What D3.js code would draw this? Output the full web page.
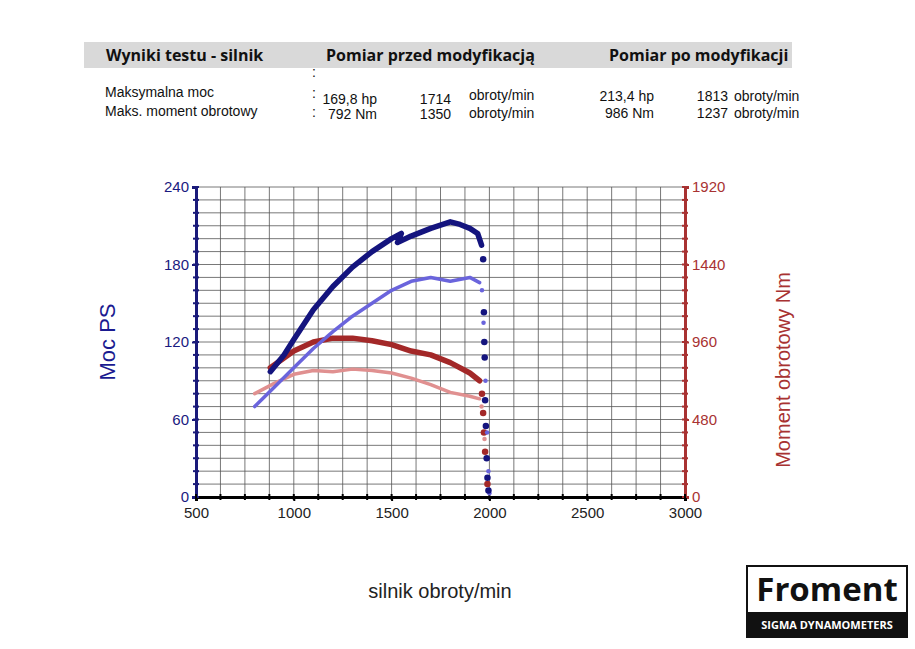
<!DOCTYPE html>
<html><head><meta charset="utf-8">
<script src="https://cdn.jsdelivr.net/npm/d3@7"></script>
<style>body{margin:0;background:#fff}svg{font-family:"Liberation Sans",Arial,sans-serif}</style>
</head><body><svg id="c" width="915" height="649"></svg>
<script>
// rpm / PS
const powerAfter = [[880,97],[950,110],[1000,122],[1100,145],[1200,163],[1300,178],[1400,190],[1500,200],[1550,204],[1530,197],[1600,202],[1700,208],[1800,213],[1850,211],[1900,208],[1940,204],[1960,195]];
const powerAfterTail = [[1968,184],[1972,143],[1974,120],[1976,108],[1978,75],[1982,55],[1986,30],[1990,15],[1995,5]];
const powerBefore = [[800,70],[900,85],[1000,100],[1100,115],[1200,128],[1300,140],[1400,150],[1500,160],[1600,167],[1700,170],[1800,167],[1900,170],[1950,166]];
const powerBeforeTail = [[1962,160],[1970,135],[1980,90],[1988,50],[1995,20],[2000,3]];
// rpm / Nm
const torqueAfter = [[880,800],[1000,904],[1100,960],[1200,984],[1300,984],[1400,968],[1500,944],[1600,904],[1700,880],[1800,832],[1900,768],[1950,720]];
const torqueAfterTail = [[1962,640],[1968,520],[1972,400],[1978,280],[1990,80]];
const torqueBefore = [[800,640],[900,704],[1000,760],[1100,784],[1200,776],[1300,792],[1400,784],[1500,768],[1600,736],[1700,696],[1800,648],[1900,624],[1950,608]];
const torqueBeforeTail = [[1960,560],[1975,360],[1990,80]];

const xTicks = [500,1000,1500,2000,2500,3000];
const psTicks = [0,60,120,180,240];
const nmTicks = [0,480,960,1440,1920];

const svg = d3.select("#c");
const L=196,R=685,T=187,B=497;
const x = d3.scaleLinear().domain([500,3000]).range([L,R]);
const yPS = d3.scaleLinear().domain([0,240]).range([B,T]);
const yNm = d3.scaleLinear().domain([0,1920]).range([B,T]);

// header
svg.append("rect").attr("x",84).attr("y",42).attr("width",708).attr("height",26).attr("fill","#d9d9d9");
const hd = svg.append("g").attr("font-family","'Open Sans',sans-serif").attr("font-weight","bold").attr("font-size",16).attr("fill","#111");
hd.append("text").attr("x",106).attr("y",61).text("Wyniki testu - silnik");
hd.append("text").attr("x",326).attr("y",61).text("Pomiar przed modyfikacją");
hd.append("text").attr("x",609).attr("y",61).text("Pomiar po modyfikacji");
const info = svg.append("g").attr("font-size",14).attr("fill","#111");
info.append("text").attr("x",105).attr("y",97).text("Maksymalna moc");
info.append("text").attr("x",105).attr("y",116).text("Maks. moment obrotowy");
[77,98,117].forEach(d=>info.append("text").attr("x",312).attr("y",d).text(":"));
// [value y, obroty y, before value, before rpm, after y, after value, after rpm]
const rows=[[104,100,"169,8 hp","1714",101,"213,4 hp","1813"],[119,118,"792 Nm","1350",118,"986 Nm","1237"]];
rows.forEach(r=>{
  info.append("text").attr("x",377).attr("y",r[0]).attr("text-anchor","end").text(r[2]);
  info.append("text").attr("x",451).attr("y",r[0]).attr("text-anchor","end").text(r[3]);
  info.append("text").attr("x",469).attr("y",r[1]).text("obroty/min");
  info.append("text").attr("x",654).attr("y",r[4]).attr("text-anchor","end").text(r[5]);
  info.append("text").attr("x",728).attr("y",r[4]).attr("text-anchor","end").text(r[6]);
  info.append("text").attr("x",734).attr("y",r[4]).text("obroty/min");
});

// grid
const g = svg.append("g");
g.selectAll(".vg").data(d3.range(500,3001,125)).join("line")
  .attr("x1",d=>x(d)).attr("x2",d=>x(d)).attr("y1",T).attr("y2",B).attr("stroke","#555").attr("stroke-width",0.8);
g.selectAll(".hg").data(d3.range(0,241,10)).join("line")
  .attr("y1",d=>yPS(d)).attr("y2",d=>yPS(d)).attr("x1",L).attr("x2",R).attr("stroke","#555").attr("stroke-width",0.8);

// axes
const axL = svg.append("g").attr("transform",`translate(${L},0)`)
  .call(d3.axisLeft(yPS).tickValues(psTicks).tickSize(4));
axL.select(".domain").attr("stroke","#1a1a7a").attr("stroke-width",3);
axL.selectAll("text").attr("fill","#1a1a80").attr("font-size",15);
axL.selectAll(".tick line").attr("stroke","#1a1a7a").attr("stroke-width",2);
const axR = svg.append("g").attr("transform",`translate(${R},0)`)
  .call(d3.axisRight(yNm).tickValues(nmTicks).tickFormat(d3.format("d")).tickSize(4));
axR.select(".domain").attr("stroke","#a83232").attr("stroke-width",3);
axR.selectAll("text").attr("fill","#a83232").attr("font-size",15);
axR.selectAll(".tick line").attr("stroke","#a83232").attr("stroke-width",2);
const axB = svg.append("g").attr("transform",`translate(0,${B})`)
  .call(d3.axisBottom(x).tickValues(xTicks).tickFormat(d3.format("d")).tickSize(4).tickPadding(6));
axB.select(".domain").attr("stroke","#000").attr("stroke-width",3);
axB.selectAll("text").attr("fill","#222").attr("font-size",15);
axB.selectAll(".tick line").attr("stroke","#000").attr("stroke-width",2);

// minor ticks on axes
svg.selectAll(".ml").data(d3.range(0,241,10)).join("line").attr("x1",L-3).attr("x2",L+3).attr("y1",d=>yPS(d)).attr("y2",d=>yPS(d)).attr("stroke","#1a1a7a").attr("stroke-width",2);
svg.selectAll(".mr").data(d3.range(0,241,10)).join("line").attr("x1",R-3).attr("x2",R+3).attr("y1",d=>yPS(d)).attr("y2",d=>yPS(d)).attr("stroke","#a83232").attr("stroke-width",2);
svg.selectAll(".mb").data(d3.range(500,3001,125)).join("line").attr("y1",B-3).attr("y2",B+3).attr("x1",d=>x(d)).attr("x2",d=>x(d)).attr("stroke","#000").attr("stroke-width",2);

// curves
function curve(data,tail,ys,color,w){
  svg.append("path").datum(data).attr("fill","none").attr("stroke",color).attr("stroke-width",w)
    .attr("stroke-linejoin","round").attr("stroke-linecap","round")
    .attr("d",d3.line().x(d=>x(d[0])).y(d=>ys(d[1])));
  svg.append("g").selectAll("circle").data(tail).join("circle")
    .attr("cx",d=>x(d[0])).attr("cy",d=>ys(d[1])).attr("r",w/2+0.5).attr("fill",color);
}
curve(torqueBefore,torqueBeforeTail,yNm,"#e09090",3.5);
curve(torqueAfter,torqueAfterTail,yNm,"#a32828",5.5);
curve(powerBefore,powerBeforeTail,yPS,"#6a64dc",3.5);
curve(powerAfter,powerAfterTail,yPS,"#14147e",5.5);

// labels
svg.append("text").attr("transform","translate(115,342) rotate(-90)").attr("text-anchor","middle")
  .attr("font-size",22).attr("fill","#1a1a90").text("Moc PS");
svg.append("text").attr("transform","translate(790,370) rotate(-90)").attr("text-anchor","middle")
  .attr("font-size",20).attr("fill","#a83232").text("Moment obrotowy Nm");
svg.append("text").attr("x",440).attr("y",598).attr("text-anchor","middle").attr("font-size",20).attr("fill","#222").text("silnik obroty/min");

// logo
svg.append("rect").attr("x",747).attr("y",566).attr("width",160).attr("height",71).attr("fill","#fff").attr("stroke","#111").attr("stroke-width",2);
svg.append("rect").attr("x",747).attr("y",612).attr("width",160).attr("height",25).attr("fill","#111");
svg.append("text").attr("x",827).attr("y",601).attr("text-anchor","middle").attr("font-family","'Open Sans',sans-serif").attr("font-weight","bold").attr("font-size",33).attr("fill","#111").text("Froment");
svg.append("text").attr("x",827).attr("y",629).attr("text-anchor","middle").attr("font-family","'Open Sans',sans-serif").attr("font-weight","bold").attr("font-size",11).attr("fill","#fff").text("SIGMA DYNAMOMETERS");
</script></body></html>
